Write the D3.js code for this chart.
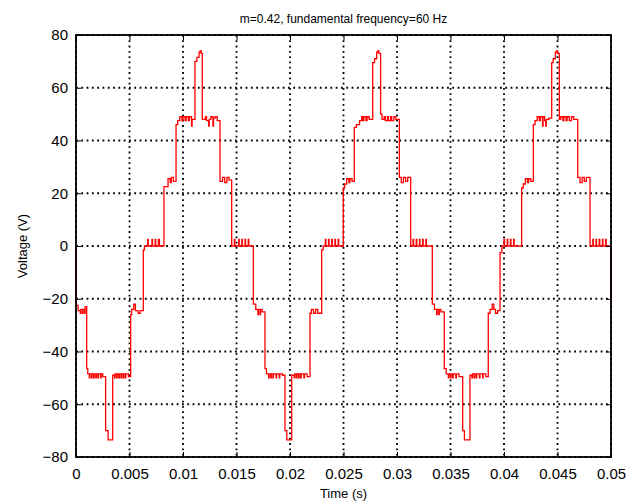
<!DOCTYPE html>
<html>
  <head>
    <meta charset="UTF-8">
    <style>
      body {
        margin: 0;
        background: #fff;
        font-family: Arial, "Liberation Sans", sans-serif;
      }

      .tick-label {
        font-size: 15px;
        fill: #000;
      }

      .title {
        font-size: 12px;
        fill: #000;
      }

      .axis-label {
        font-size: 13px;
        fill: #000;
      }
    </style>
    <script src="https://d3js.org/d3.v7.min.js"></script>
  </head>

  <body>
    <svg id="chart"></svg>

    <script type="text/javascript">
      const xTicks = [0, 0.005, 0.01, 0.015, 0.02, 0.025, 0.03, 0.035, 0.04, 0.045, 0.05]
      const yTicks = [-80, -60, -40, -20, 0, 20, 40, 60, 80]

      // [time (s), voltage (V)] vertices, held until the next time (step after)
      const cycle1 = [
        [0, 0], [0.00003, -22.5], [0.0002, -24.5], [0.0004, -25.5], [0.00045, -24], [0.0006, -25.5], [0.00065, -24], [0.0008, -25.5], [0.00085, -23],
        [0.0010, -46.5], [0.0011, -48.5], [0.00125, -50], [0.0013, -48.5], [0.00145, -50], [0.0015, -48.5], [0.00165, -50], [0.0017, -48.5],
        [0.00185, -50], [0.0019, -48.5], [0.00205, -50], [0.0021, -48.5], [0.0023, -50], [0.00235, -48.5], [0.0025, -49.5],
        [0.00277, -70], [0.0030, -73.5],
        [0.00343, -49], [0.0036, -50], [0.00365, -48.5], [0.0038, -50], [0.00385, -48.5], [0.0040, -50], [0.00405, -48.5], [0.0042, -50],
        [0.00425, -48.5], [0.0044, -50], [0.00445, -48.5], [0.0046, -50], [0.00465, -48.5], [0.0049, -49.5],
        [0.00511, -26], [0.0052, -24], [0.0054, -22], [0.00555, -24.5], [0.0058, -25.5], [0.0060, -24.5],
        [0.00629, -1.5], [0.0064, 0], [0.0067, 2.5], [0.00675, 0], [0.0071, 2.5], [0.00715, 0], [0.0074, 2.5], [0.00745, 0], [0.0077, 2.5], [0.0078, 0],
        [0.00822, 22.5], [0.0086, 25.5], [0.0088, 24], [0.0089, 26], [0.0091, 24.5],
        [0.00935, 46], [0.0095, 47.5], [0.0097, 49], [0.0099, 47.5], [0.0100, 49], [0.0102, 47.5], [0.0103, 49], [0.0105, 47.5], [0.0106, 49],
        [0.0108, 45.5], [0.01085, 48],
        [0.01112, 70], [0.0113, 71.5], [0.0115, 73.5], [0.0116, 74], [0.0117, 73],
        [0.0118, 48], [0.0121, 49], [0.0122, 47.5], [0.0124, 45.5], [0.01245, 48], [0.0126, 49], [0.0128, 45.5], [0.01285, 48.5], [0.0130, 49], [0.0132, 47.5],
        [0.01346, 24.5], [0.0137, 26], [0.0139, 24], [0.0141, 26], [0.0143, 25],
        [0.01455, 0], [0.0148, 2.5], [0.01485, 0], [0.0152, 2.5], [0.01525, 0], [0.0155, 2.5], [0.01555, 0], [0.0158, 2.5], [0.01585, 0],
        [0.0161, 2.5], [0.01615, 0]
      ]

      const cycle2 = [
        [0.01657, -22], [0.0168, -24], [0.0170, -26], [0.01705, -24], [0.0172, -26], [0.01725, -24], [0.0174, -25],
        [0.01766, -46.5], [0.0178, -48.5], [0.0180, -50], [0.01805, -48.5], [0.0182, -50], [0.01825, -48.5], [0.0184, -50], [0.01845, -48.5],
        [0.0187, -50], [0.01875, -48.5], [0.0190, -50], [0.01905, -48.5], [0.0193, -49],
        [0.01953, -70], [0.0197, -73.5],
        [0.02016, -49], [0.0204, -50], [0.02045, -48.5], [0.0206, -50], [0.02065, -48.5], [0.0208, -50], [0.02085, -48.5], [0.0210, -50],
        [0.02105, -48.5], [0.0213, -50], [0.02135, -48.5], [0.0216, -49.5],
        [0.02187, -25.5], [0.0220, -24], [0.0222, -25.5], [0.0224, -24], [0.0226, -25.5],
        [0.02296, -1.5], [0.0231, 0], [0.0233, 2.5], [0.02335, 0], [0.0236, 2.5], [0.02365, 0], [0.0239, 2.5], [0.02395, 0], [0.0242, 2.5],
        [0.02425, 0], [0.0245, 2.5], [0.02455, 0],
        [0.02498, 22], [0.0251, 23.5], [0.0253, 25.5], [0.0255, 24], [0.0256, 25.5], [0.0258, 24.5],
        [0.02601, 45], [0.0262, 46], [0.0265, 47.5], [0.0267, 49], [0.0268, 47.5], [0.0269, 49], [0.0271, 47.5], [0.0272, 49], [0.0274, 48],
        [0.02773, 69.5], [0.0279, 71], [0.0281, 73.5], [0.0282, 74], [0.0283, 73],
        [0.02847, 50], [0.0286, 48], [0.0288, 49], [0.0289, 47.5], [0.0291, 49], [0.0292, 47.5], [0.0294, 49], [0.0295, 47.5], [0.0297, 49], [0.0299, 48],
        [0.03022, 26], [0.0304, 24], [0.0306, 26], [0.0308, 24.5], [0.0310, 26],
        [0.03128, 0], [0.0315, 2.5], [0.03155, 0], [0.0318, 2.5], [0.03185, 0], [0.0321, 2.5], [0.03215, 0], [0.0324, 2.5], [0.03245, 0],
        [0.0327, 2.5], [0.03275, 0]
      ]

      const cycle3 = [
        [0.0333, -22], [0.0335, -24], [0.0337, -26], [0.03375, -24], [0.0339, -26], [0.03395, -24], [0.0341, -25],
        [0.03442, -46.5], [0.0346, -48.5], [0.0348, -50], [0.03485, -48.5], [0.0350, -50], [0.03505, -48.5], [0.0352, -50], [0.03525, -48.5],
        [0.0355, -50], [0.03555, -48.5], [0.0358, -49.5],
        [0.03614, -70], [0.0363, -73.5],
        [0.03682, -49], [0.0370, -50], [0.03705, -48.5], [0.0372, -50], [0.03725, -48.5], [0.0374, -50], [0.03745, -48.5], [0.0377, -50],
        [0.03775, -48.5], [0.0380, -50], [0.03805, -48.5], [0.0383, -49.5],
        [0.03853, -25.5], [0.0387, -24], [0.0389, -22], [0.03905, -24], [0.0392, -25.5], [0.0394, -24.5],
        [0.03963, -2.5], [0.0398, 0], [0.0400, 2.5], [0.04005, 0], [0.0403, 2.5], [0.04035, 0], [0.0406, 2.5], [0.04065, 0], [0.0409, 2.5], [0.04095, 0],
        [0.04165, 22], [0.0418, 23.5], [0.0420, 25.5], [0.0422, 24], [0.0423, 25.5], [0.0425, 24.5],
        [0.04274, 46], [0.0429, 47.5], [0.0431, 49], [0.0433, 47.5], [0.0434, 49], [0.0436, 45.5], [0.04365, 49], [0.0438, 47.5], [0.0439, 45.5],
        [0.04395, 48], [0.0442, 48.5],
        [0.04446, 69.5], [0.0446, 71], [0.0448, 73.5], [0.0449, 74], [0.0450, 73],
        [0.04517, 48], [0.0453, 49], [0.0455, 47.5], [0.0456, 49], [0.0458, 47.5], [0.0459, 49], [0.0461, 47.5], [0.0463, 49], [0.0465, 48],
        [0.04689, 26], [0.0471, 24], [0.0473, 26], [0.0475, 24.5], [0.0477, 26],
        [0.04804, 0], [0.0483, 2.5], [0.04835, 0], [0.0486, 2.5], [0.04865, 0], [0.0489, 2.5], [0.04895, 0], [0.0492, 2.5], [0.04925, 0],
        [0.0495, 2.5], [0.04955, 0],
        [0.05, -22]
      ]

      const titleText = 'm=0.42, fundamental frequency=60 Hz'
      const xLabelText = 'Time (s)'
      const yLabelText = 'Voltage (V)'

      function getConfig() {
        let width = 637
        let height = 503
        let margin = {top: 35, bottom: 46, left: 76, right: 26}
        let bodyWidth = width - margin.left - margin.right
        let bodyHeight = height - margin.top - margin.bottom

        let container = d3.select('#chart')
          .attr('width', width)
          .attr('height', height)

        return {width, height, margin, bodyWidth, bodyHeight, container}
      }

      function getScales(config) {
        let xScale = d3.scaleLinear()
          .domain([0, 0.05])
          .range([0, config.bodyWidth])
        let yScale = d3.scaleLinear()
          .domain([-80, 80])
          .range([config.bodyHeight, 0])
        return {xScale, yScale}
      }

      function drawGrid(scales, config) {
        let {xScale, yScale} = scales
        let {margin, bodyWidth, bodyHeight, container} = config
        let grid = container.append('g')
          .attr('transform', `translate(${margin.left}, ${margin.top})`)
          .attr('stroke', '#000')
          .attr('stroke-width', 1.8)
          .attr('stroke-dasharray', '1.8,3.5')

        grid.selectAll('.vgrid')
          .data(xTicks)
          .enter()
          .append('line')
          .attr('x1', d => xScale(d))
          .attr('x2', d => xScale(d))
          .attr('y1', 0)
          .attr('y2', bodyHeight)

        grid.selectAll('.hgrid')
          .data(yTicks)
          .enter()
          .append('line')
          .attr('x1', 0)
          .attr('x2', bodyWidth)
          .attr('y1', d => yScale(d))
          .attr('y2', d => yScale(d))
      }

      function drawWave(scales, config) {
        let {xScale, yScale} = scales
        let {margin, container} = config
        let data = cycle1.concat(cycle2, cycle3)

        let line = d3.line()
          .x(d => xScale(d[0]))
          .y(d => yScale(d[1]))
          .curve(d3.curveStepAfter)

        container.append('g')
          .attr('transform', `translate(${margin.left}, ${margin.top})`)
          .append('path')
          .datum(data)
          .attr('d', line)
          .attr('fill', 'none')
          .attr('stroke', '#ff0000')
          .attr('stroke-width', 1.3)
      }

      function drawAxes(scales, config) {
        let {xScale, yScale} = scales
        let {margin, bodyWidth, bodyHeight, container} = config
        let fmtX = d => d3.format('~g')(d)

        let axisBottom = d3.axisBottom(xScale).tickValues(xTicks).tickSize(-5).tickPadding(11).tickFormat(fmtX)
        let axisTop = d3.axisTop(xScale).tickValues(xTicks).tickSize(-5).tickFormat('')
        let axisLeft = d3.axisLeft(yScale).tickValues(yTicks).tickSize(-5).tickPadding(8)
        let axisRight = d3.axisRight(yScale).tickValues(yTicks).tickSize(-5).tickFormat('')

        let groups = [
          [axisBottom, margin.left, margin.top + bodyHeight],
          [axisTop, margin.left, margin.top],
          [axisLeft, margin.left, margin.top],
          [axisRight, margin.left + bodyWidth, margin.top]
        ]

        groups.forEach(([axis, x, y]) => {
          let g = container.append('g')
            .attr('transform', `translate(${x}, ${y})`)
            .call(axis)
          g.select('.domain').remove()
          g.selectAll('.tick line').attr('stroke', '#000').attr('stroke-width', 1)
          g.selectAll('.tick text')
            .attr('class', 'tick-label')
            .attr('font-family', null)
            .attr('font-size', null)
        })

        container.append('rect')
          .attr('x', margin.left)
          .attr('y', margin.top)
          .attr('width', bodyWidth)
          .attr('height', bodyHeight)
          .attr('fill', 'none')
          .attr('stroke', '#000')
          .attr('stroke-width', 1.8)
      }

      function drawLabels(config) {
        let {margin, bodyWidth, bodyHeight, container} = config
        let cx = margin.left + bodyWidth / 2

        container.append('text')
          .attr('class', 'title')
          .attr('x', cx)
          .attr('y', 23)
          .attr('text-anchor', 'middle')
          .text(titleText)

        container.append('text')
          .attr('class', 'axis-label')
          .attr('x', cx)
          .attr('y', 498)
          .attr('text-anchor', 'middle')
          .text(xLabelText)

        container.append('text')
          .attr('class', 'axis-label')
          .attr('transform', `translate(27, ${margin.top + bodyHeight / 2}) rotate(-90)`)
          .attr('text-anchor', 'middle')
          .text(yLabelText)
      }

      function drawChart() {
        let config = getConfig()
        let scales = getScales(config)
        drawGrid(scales, config)
        drawWave(scales, config)
        drawAxes(scales, config)
        drawLabels(config)
      }

      drawChart()
    </script>
  </body>
</html>
